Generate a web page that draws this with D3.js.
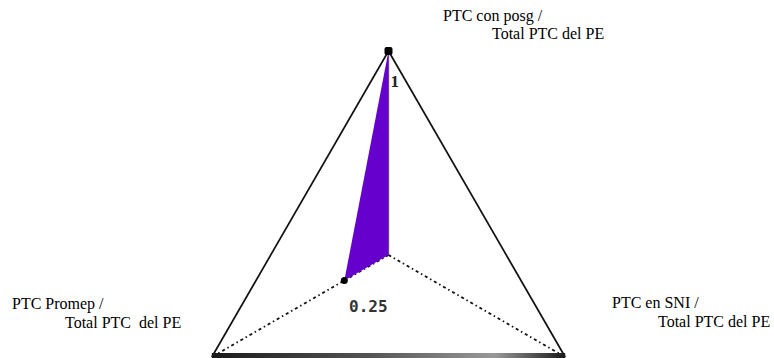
<!DOCTYPE html>
<html><head><meta charset="utf-8">
<script src="https://cdn.jsdelivr.net/npm/d3@7"></script>
<style>body{margin:0;background:#fff}svg{display:block}</style>
</head><body>
<script>
const axesLine1 = ["PTC con posg /", "PTC en SNI /", "PTC Promep /"];
const axesLine2 = ["Total PTC del PE", "Total PTC del PE", "Total PTC  del PE"];
const values = [1, 0, 0.25];
const valueLabels = ["1", "", "0.25"];

const W = 774, H = 358;
const cx = 388.5, cy = 255, R = 204;
const serif = "'Liberation Serif', 'Times New Roman', Times, serif";
const svg = d3.select("body").append("svg").attr("width", W).attr("height", H);

const angle = d3.scalePoint().domain(d3.range(axesLine1.length)).range([-Math.PI/2, -Math.PI/2 + 2*Math.PI*(2/3)]);
const r = d3.scaleLinear().domain([0, 1]).range([0, R]);
const pt = (i, v) => [cx + r(v)*Math.cos(angle(i)), cy + r(v)*Math.sin(angle(i))];

const defs = svg.append("defs");
const grad = defs.append("linearGradient").attr("id","bar");
grad.append("stop").attr("offset","0%").attr("stop-color","#1a1a1a");
grad.append("stop").attr("offset","45%").attr("stop-color","#555");
grad.append("stop").attr("offset","80%").attr("stop-color","#999");
grad.append("stop").attr("offset","100%").attr("stop-color","#1a1a1a");

// axes from center
axesLine1.forEach((d,i) => {
  const [x,y] = pt(i,1);
  svg.append("line").attr("x1",cx).attr("y1",cy).attr("x2",x).attr("y2",y)
    .attr("stroke", i===0 ? "#777" : "#111").attr("stroke-width", i===0 ? 1.4 : 2)
    .attr("stroke-dasharray", i===0 ? null : "3,3,1.5,3");
});

// data polygon
const poly = values.map((v,i) => pt(i,v));
svg.append("path").attr("d", d3.line()(poly) + "Z").attr("fill","#6600cc").attr("stroke","none");

// outer triangle
const outer = axesLine1.map((d,i) => pt(i,1));
[[0,1],[0,2]].forEach(([a,b]) => {
  svg.append("line").attr("x1",outer[a][0]).attr("y1",outer[a][1]).attr("x2",outer[b][0]).attr("y2",outer[b][1])
    .attr("stroke","#111").attr("stroke-width",1.7);
});
svg.append("rect").attr("x", outer[2][0]).attr("y", outer[2][1]-4)
  .attr("width", outer[1][0]-outer[2][0]).attr("height", 5).attr("fill","url(#bar)");

// markers
values.forEach((v,i) => {
  if (v <= 0) return;
  const [x,y] = pt(i,v);
  if (v === 1) svg.append("rect").attr("x",x-4).attr("y",y-4).attr("width",8).attr("height",8).attr("rx",2).attr("fill","#000");
  else svg.append("circle").attr("cx",x).attr("cy",y).attr("r",3.5).attr("fill","#000");
});

// value labels
svg.append("text").attr("x", pt(0,1)[0]+2).attr("y", pt(0,1)[1]+36).text(valueLabels[0])
  .attr("font-family", serif).attr("font-weight","bold").attr("font-size",17).attr("fill","#222");
svg.append("text").attr("x", pt(2,values[2])[0]+24).attr("y", pt(2,values[2])[1]+31).attr("text-anchor","middle").text(valueLabels[2])
  .attr("font-family","'DejaVu Sans Mono', monospace").attr("font-weight","bold").attr("font-size",16).attr("fill","#333");

// axis titles
const labelPos = [[443,21,492,39],[612,308,658,327],[12,309,65,328]];
axesLine1.forEach((d,i) => {
  const [x1,y1,x2,y2] = labelPos[i];
  const t = svg.append("text").attr("font-family", serif).attr("font-size",16).attr("fill","#000").style("white-space","pre");
  t.append("tspan").attr("x",x1).attr("y",y1).text(d);
  t.append("tspan").attr("x",x2).attr("y",y2).text(axesLine2[i]);
});
</script>
</body></html>
